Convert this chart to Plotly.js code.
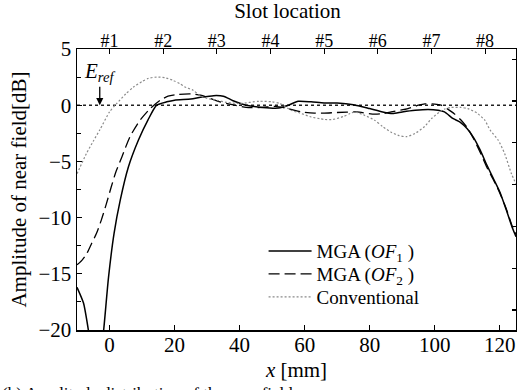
<!DOCTYPE html>
<html>
<head>
<meta charset="utf-8">
<script src="https://cdn.plot.ly/plotly-3.0.1.min.js"></script>
<style>html,body{margin:0;padding:0;background:#fff;}#chart{width:517px;height:390px;}</style>
</head>
<body>
<div id="chart"></div>
<script>
// ---- data ----
const of1X = [-10, -8, -6.5, -5, -3, -1.8, -0.3, 1.4, 3.3, 5.8, 8.9, 11.8, 14.5, 17.6, 20, 25, 28, 32, 35, 38, 42, 47, 52, 55, 58, 62, 66, 70, 75, 80, 84, 87, 90, 94, 98, 101, 103, 105.7, 107.8, 110, 112, 114, 116, 118, 120, 122, 124, 125];
const of1Y = [-16.2, -17.6, -20, -23, -23, -20, -15.3, -11.4, -8.45, -5.5, -3.1, -1.33, 0, 0.3, 0.45, 0.55, 0.7, 0.85, 0.8, 0.4, 0.0, -0.2, -0.25, 0.0, 0.35, 0.3, 0.2, 0.2, 0.05, -0.3, -0.6, -0.74, -0.6, -0.45, -0.38, -0.45, -0.6, -1.2, -1.5, -2.1, -2.9, -4.0, -5.3, -6.5, -7.7, -9.3, -11.0, -11.7];

const of2X = [-10, -8.5, -7, -5.5, -4, -2.5, -1, 0.5, 2, 3.8, 6.3, 9.4, 12.5, 15.6, 18, 21, 25, 28, 31, 34, 37, 42, 47, 51, 55, 59, 63, 66, 70, 76, 81.5, 84, 86.6, 91.8, 95, 97, 100, 102, 104, 106, 108, 110, 112, 114, 116, 118, 120, 122, 124, 125];
const of2Y = [-14.2, -13.8, -13.2, -12.3, -11.4, -10.2, -8.8, -7.3, -5.9, -4.6, -2.8, -1.33, -0.3, 0.45, 0.8, 0.95, 1.0, 0.9, 0.6, 0.3, 0.1, -0.2, -0.2, -0.1, -0.3, -0.6, -0.7, -0.7, -0.65, -0.6, -0.8, -0.75, -0.6, -0.3, 0.0, 0.12, 0.1, 0.0, -0.35, -0.75, -1.3, -2.0, -3.0, -4.2, -5.5, -6.6, -7.8, -9.2, -10.9, -11.5];

const convX = [-10, -7.1, -5, -3, 0, 2.2, 5, 7.3, 10, 12, 14.5, 17, 19.6, 21.7, 23, 25.7, 27.8, 30, 32.9, 36, 40, 46, 50, 52.4, 55.8, 58.6, 62, 64.7, 66.1, 68.7, 72, 74, 75.4, 78, 81.5, 84, 86.6, 89, 91.3, 94, 96.9, 99, 101.5, 103, 105.1, 108, 110.2, 113, 115.4, 117, 119.5, 121.5, 123.6, 125];
const convY = [-6.1, -4.3, -3.2, -2.2, -0.6, 0.15, 1.0, 1.6, 2.1, 2.4, 2.5, 2.45, 2.2, 1.9, 1.65, 1.33, 0.85, 0.6, 0.45, 0.25, 0.15, 0.35, 0.3, 0.15, -0.45, -0.7, -1.05, -1.2, -1.27, -1.27, -1.0, -0.74, -0.6, -0.85, -1.33, -1.9, -2.4, -2.7, -2.8, -2.5, -1.9, -1.2, -0.6, -0.35, -0.2, -0.2, -0.3, -0.7, -1.33, -2.2, -3.1, -4.3, -6.1, -7.0];

const seriesNames = ['MGA (<i>OF</i><sub>1</sub> )', 'MGA (<i>OF</i><sub>2</sub> )', 'Conventional'];
const slotPos = [0, 16.5, 33, 49.5, 66, 82.5, 99, 115.5];
const slotLabels = ['#1', '#2', '#3', '#4', '#5', '#6', '#7', '#8'];
const rightTicks = [0, 1, 2, 3, 4, 5, 6];
const refLevel = 0;
const refX = -3;

// ---- chart ----
const FONT = 'Liberation Serif';
const traces = [
  {x: of1X, y: of1Y, name: seriesNames[0], legend: 'legend', mode: 'lines', line: {color: '#000', width: 1.5, shape: 'spline', smoothing: 0.6}},
  {x: of2X, y: of2Y, name: seriesNames[1], legend: 'legend2', mode: 'lines', line: {color: '#000', width: 1.3, dash: '11px,5px', shape: 'spline', smoothing: 0.6}},
  {x: convX, y: convY, name: seriesNames[2], legend: 'legend3', mode: 'lines', line: {color: '#8a8a8a', width: 1.2, dash: '2px,2px', shape: 'spline', smoothing: 0.6}},
  // carriers for the top (slot) axis and the right-hand axis; nothing visible
  {x: slotPos, y: slotPos.map(() => null), xaxis: 'x2', yaxis: 'y', mode: 'lines', showlegend: false, hoverinfo: 'skip'},
  {x: rightTicks.map(() => null), y: rightTicks, xaxis: 'x', yaxis: 'y2', mode: 'lines', showlegend: false, hoverinfo: 'skip'}
];

const axisBase = {showgrid: false, zeroline: false, showline: true, linecolor: '#000', linewidth: 1.5,
  ticks: 'inside', ticklen: 5, tickcolor: '#000', tickwidth: 1.2,
  tickfont: {family: FONT, size: 21, color: '#000'}};

const legendBase = {x: 0.425, xanchor: 'left', yanchor: 'middle', bgcolor: 'rgba(0,0,0,0)',
  font: {family: FONT, size: 19, color: '#000'}, itemwidth: 43};

const layout = {
  width: 517, height: 390,
  margin: {l: 77, r: 1, t: 49, b: 60, pad: 0},
  paper_bgcolor: '#fff', plot_bgcolor: '#fff',
  font: {family: FONT, color: '#000'},
  title: {text: 'Slot location', font: {family: FONT, size: 21, color: '#000'},
    xref: 'paper', x: 0.4795, xanchor: 'center', yref: 'container', y: 0.972, yanchor: 'middle'},
  showlegend: true,
  legend: Object.assign({}, legendBase, {y: 0.281}),
  legend2: Object.assign({}, legendBase, {y: 0.199}),
  legend3: Object.assign({}, legendBase, {y: 0.117}),
  xaxis: Object.assign({}, axisBase, {range: [-10, 125], tick0: 0, dtick: 20, mirror: false, ticklabelstandoff: -5,
    title: {text: '<i>x</i> [mm]', font: {family: FONT, size: 21, color: '#000'}, standoff: 6}}),
  yaxis: Object.assign({}, axisBase, {range: [-20, 5], tick0: 0, dtick: 5, mirror: false,
    minor: {dtick: 2.5, ticks: 'inside', ticklen: 4, tickcolor: '#000', tickwidth: 1.2},
    title: {text: 'Amplitude of near field[dB]', font: {family: FONT, size: 21, color: '#000'}, standoff: 6}}),
  xaxis2: Object.assign({}, axisBase, {overlaying: 'x', anchor: 'y', side: 'top', range: [-10, 125],
    tickmode: 'array', tickvals: slotPos, ticktext: slotLabels, ticklabelstandoff: -7,
    tickfont: {family: FONT, size: 18, color: '#000'}}),
  yaxis2: Object.assign({}, axisBase, {overlaying: 'y', anchor: 'x', side: 'right', range: [-0.478, 6.244],
    tickmode: 'array', tickvals: rightTicks, ticklen: 4, showticklabels: false}),
  shapes: [{type: 'line', xref: 'paper', x0: 0, x1: 1, yref: 'y', y0: refLevel, y1: refLevel,
    line: {color: '#222', width: 1.6, dash: '3px,3px'}, layer: 'below'}],
  annotations: [
    {x: refX, y: refLevel, xref: 'x', yref: 'y', text: '<i>E<sub>ref</sub></i>', showarrow: true,
      arrowhead: 2, arrowsize: 1.1, arrowwidth: 1.3, arrowcolor: '#000', ax: 0, ay: -33,
      font: {family: FONT, size: 21, color: '#000'}},
    {xref: 'paper', yref: 'paper', x: -0.1754, xanchor: 'left', y: -0.185, yanchor: 'top',
      text: '(b) Amplitude distribution of the near field', showarrow: false,
      font: {family: FONT, size: 17, color: '#000'}}
  ]
};

Plotly.newPlot('chart', traces, layout, {staticPlot: true, displayModeBar: false});
</script>
</body>
</html>
